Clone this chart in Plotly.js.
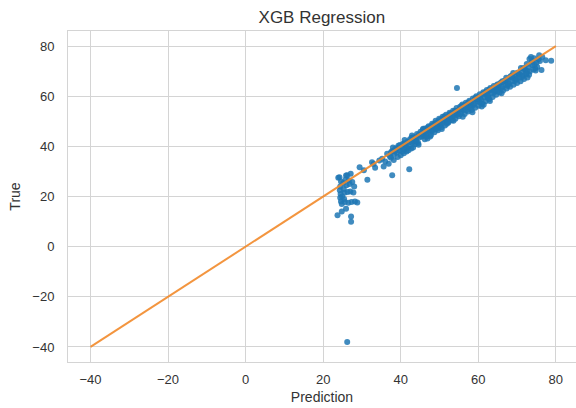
<!DOCTYPE html>
<html>
<head>
<meta charset="utf-8">
<script src="https://cdn.plot.ly/plotly-3.0.1.min.js"></script>
<style>
  html, body { margin: 0; padding: 0; background: #ffffff; }
  #chart { width: 576px; height: 408px; }
</style>
</head>
<body>
<div id="chart"></div>
<script>
// Model predictions (x) against true values (y)
const predicted = [
  // low-value cluster
  23.9, 25.9, 27.1, 29.4, 24.2, 26.2, 24.6, 25.2, 24.4, 24.3, 24.5, 24.4, 24.6, 24.8,
  25.5, 26.3, 27.0, 27.8, 26.0, 26.8, 27.5, 25.3, 25.6, 26.5, 27.3, 28.2, 28.8, 25.8,
  26.6, 23.7, 24.8, 25.9, 27.2, 27.2, 24.9, 25.4, 28.0, 26.2,
  // transition
  31.4, 33.4, 32.6, 34.5, 35.6, 36.9, 37.8, 42.2, 35.2, 36.0, 37.5, 38.2, 33.0, 30.5,
  // 37 - 45
  37.2, 37.8, 38.3, 38.6, 39.0, 39.4, 39.7, 40.0, 40.3, 40.6, 40.9, 41.2, 41.5, 41.8,
  42.1, 42.4, 42.7, 43.0, 43.3, 43.6, 43.9, 44.2, 44.5, 44.8, 45.1, 39.2, 40.8, 42.0,
  43.2, 44.6, 38.0, 41.0, 42.9, 36.5, 37.5,
  38.5, 39.1, 39.8, 40.4, 41.0, 41.6, 42.3, 42.8, 43.5, 44.0, 44.7, 44.1,
  // 45 - 55
  45.4, 45.7, 46.0, 46.3, 46.6, 46.9, 47.2, 47.5, 47.8, 48.1, 48.4, 48.7, 49.0, 49.3,
  49.6, 49.9, 50.2, 50.5, 50.8, 51.1, 51.4, 51.7, 52.0, 52.3, 52.6, 52.9, 53.2, 53.5,
  53.8, 54.1, 54.4, 54.7, 55.0, 46.2, 48.0, 50.0, 51.9, 53.6, 47.0, 49.5, 52.5, 54.5,
  45.9, 48.6, 51.2, 53.9, 47.6, 50.6, 54.5,
  45.3, 45.8, 46.4, 47.1, 47.7, 48.3, 48.9, 49.4, 50.1, 50.7, 51.3, 51.8, 52.4, 52.8,
  53.4, 54.0, 54.6, 46.7, 49.1, 52.2, 48.2, 50.9, 53.7,
  // 55 - 65
  55.3, 55.6, 55.9, 56.2, 56.5, 56.8, 57.1, 57.4, 57.7, 58.0, 58.3, 58.6, 58.9, 59.2,
  59.5, 59.8, 60.1, 60.4, 60.7, 61.0, 61.3, 61.6, 61.9, 62.2, 62.5, 62.8, 63.1, 63.4,
  63.7, 64.0, 64.3, 64.6, 64.9, 56.0, 58.5, 61.4, 63.0, 57.3, 60.0, 62.7, 55.8, 59.0,
  64.4, 60.9,
  55.2, 55.7, 56.3, 56.9, 57.5, 58.1, 58.7, 59.3, 59.9, 60.5, 61.1, 61.7, 62.3, 62.9,
  63.5, 64.1, 64.7, 55.4, 57.9, 60.3, 62.6, 56.6, 59.6, 62.0,
  // 65 - 79
  65.2, 65.5, 65.8, 66.1, 66.4, 66.7, 67.0, 67.3, 67.6, 67.9, 68.2, 68.5, 68.8, 69.1,
  69.4, 69.7, 70.0, 70.3, 70.6, 70.9, 71.2, 71.5, 71.8, 72.1, 72.4, 72.7, 73.0, 73.3,
  73.6, 73.9, 74.2, 74.4, 74.7, 75.0, 75.5, 75.7, 76.3, 77.4, 78.8, 71.0, 69.0, 67.2,
  66.0, 72.5, 74.0, 73.2,
  65.3, 65.9, 66.5, 67.1, 67.7, 68.3, 68.9, 69.5, 70.1, 70.7, 71.3, 71.9, 72.6, 73.1,
  73.8, 74.5, 75.2, 75.9, 76.5, 65.0, 67.5, 69.9, 72.3, 74.8, 66.2, 68.6, 71.6
];

const actual = [
  // low-value cluster
  27.5, 28.4, 29.1, 31.7, 27.7, 28.5, 26.0, 25.4, 24.0, 22.5, 21.0, 19.5, 18.0, 17.0,
  21.5, 21.8, 22.0, 21.6, 24.5, 25.0, 25.8, 23.0, 17.8, 17.5, 17.8, 18.0, 17.6, 26.8,
  26.5, 12.5, 14.0, 15.1, 12.0, 9.9, 20.0, 19.0, 24.0, -38.0,
  // transition
  26.7, 31.5, 33.7, 34.4, 32.0, 33.1, 28.5, 30.9, 35.1, 34.0, 35.5, 34.6, 33.0, 30.5,
  // 37 - 45
  36.0, 38.1, 36.9, 39.0, 37.5, 40.2, 38.3, 36.5, 39.8, 41.0, 38.7, 40.4, 37.9, 41.9,
  40.0, 42.8, 39.1, 41.5, 43.6, 40.8, 42.2, 44.9, 41.3, 43.5, 45.8, 35.8, 37.2, 38.4,
  39.5, 40.6, 39.5, 42.5, 44.3, 37.0, 37.6,
  38.0, 39.3, 40.5, 38.0, 41.2, 39.5, 41.7, 43.4, 42.0, 43.7, 44.6, 41.9,
  // 45 - 55
  43.9, 46.6, 44.2, 47.1, 45.0, 43.1, 48.0, 46.2, 44.5, 49.0, 47.3, 45.6, 50.2, 48.0,
  46.4, 51.0, 49.1, 47.6, 51.8, 50.0, 48.3, 52.6, 50.9, 49.5, 53.4, 51.6, 50.4, 54.2,
  52.3, 51.0, 55.3, 53.0, 52.0, 42.8, 46.0, 48.2, 49.0, 50.2, 47.5, 49.7, 52.4, 54.1,
  45.5, 48.5, 51.5, 53.5, 43.9, 46.9, 63.3,
  44.9, 47.0, 45.8, 46.4, 47.9, 46.6, 49.2, 47.2, 50.5, 49.3, 52.0, 50.6, 51.2, 53.0,
  52.4, 54.2, 52.6, 44.0, 46.9, 49.8, 48.4, 50.8, 53.4,
  // 55 - 65
  55.8, 53.8, 56.7, 54.6, 52.9, 57.4, 55.5, 53.9, 58.2, 56.3, 54.5, 59.1, 57.0, 55.4,
  60.0, 57.9, 56.2, 60.8, 58.6, 57.1, 61.6, 59.5, 58.0, 62.5, 60.3, 58.8, 63.3, 61.2,
  59.7, 64.1, 62.0, 60.6, 64.7, 51.8, 53.6, 56.6, 58.1, 57.0, 59.6, 62.1, 55.0, 58.6,
  63.6, 55.9,
  54.7, 56.2, 55.9, 54.4, 57.6, 57.2, 56.4, 59.4, 58.7, 59.4, 60.8, 61.3, 59.9, 62.7,
  62.6, 61.5, 63.9, 52.9, 55.6, 57.7, 59.3, 56.3, 59.0, 61.7,
  // 65 - 79
  63.0, 61.5, 65.4, 63.8, 62.3, 66.1, 64.6, 63.1, 66.8, 65.2, 63.8, 67.6, 66.0, 64.6,
  68.3, 66.7, 65.3, 69.0, 67.4, 66.0, 69.8, 68.2, 66.9, 70.5, 68.9, 67.5, 71.6, 69.8,
  75.6, 72.4, 70.6, 75.1, 71.0, 73.3, 74.7, 76.3, 70.4, 74.3, 74.1, 71.2, 69.3, 67.4,
  61.2, 72.8, 74.0, 74.8,
  64.8, 63.2, 65.8, 66.3, 64.6, 67.9, 67.4, 66.2, 69.4, 68.8, 67.7, 71.2, 70.0, 68.6,
  73.7, 72.6, 71.6, 74.0, 75.6, 62.2, 64.2, 67.0, 69.2, 70.2, 66.0, 68.2, 71.0
];

// Identity reference line y = x
const identityX = [-40, 80];
const identityY = [-40, 80];

const xTicks = [-40, -20, 0, 20, 40, 60, 80];
const yTicks = [-40, -20, 0, 20, 40, 60, 80];

const textColor = '#333333';
const gridColor = '#d4d4d4';
const fontFamily = '"Liberation Sans", Arial, sans-serif';

const traces = [
  {
    type: 'scatter',
    mode: 'markers',
    x: predicted,
    y: actual,
    marker: { color: '#1f77b4', size: 6, opacity: 0.85, line: { width: 0 } },
    hoverinfo: 'x+y',
    showlegend: false
  },
  {
    type: 'scatter',
    mode: 'lines',
    x: identityX,
    y: identityY,
    line: { color: '#f28a2a', width: 2 },
    opacity: 0.9,
    showlegend: false
  }
];

const axisBase = {
  showgrid: true,
  gridcolor: gridColor,
  gridwidth: 1,
  zeroline: false,
  showline: true,
  linecolor: gridColor,
  linewidth: 1,
  mirror: true,
  ticks: 'outside',
  tickcolor: 'rgba(0,0,0,0)',
  tickfont: { family: fontFamily, size: 13, color: textColor },
  tickmode: 'array'
};

const layout = {
  width: 576,
  height: 408,
  margin: { l: 68, r: 0, t: 31, b: 46 },
  paper_bgcolor: '#ffffff',
  plot_bgcolor: '#ffffff',
  font: { family: fontFamily, color: textColor },
  title: {
    text: 'XGB Regression',
    font: { family: fontFamily, size: 17, color: textColor },
    x: 0.5588, xref: 'container', xanchor: 'center',
    y: 0.958, yref: 'container', yanchor: 'middle'
  },
  xaxis: Object.assign({}, axisBase, {
    range: [-45.8, 85.2],
    tickvals: xTicks,
    ticktext: xTicks.map(v => v < 0 ? '\u2212' + Math.abs(v) : String(v)),
    ticklen: 5,
    title: { text: 'Prediction', font: { family: fontFamily, size: 14, color: textColor }, standoff: 6 }
  }),
  yaxis: Object.assign({}, axisBase, {
    range: [-46, 86],
    tickvals: yTicks,
    ticktext: yTicks.map(v => v < 0 ? '\u2212' + Math.abs(v) : String(v)),
    ticklen: 10,
    title: { text: 'True', font: { family: fontFamily, size: 14, color: textColor }, standoff: 8 }
  }),
  showlegend: false
};

Plotly.newPlot('chart', traces, layout, { displayModeBar: false, staticPlot: true });
</script>
</body>
</html>
